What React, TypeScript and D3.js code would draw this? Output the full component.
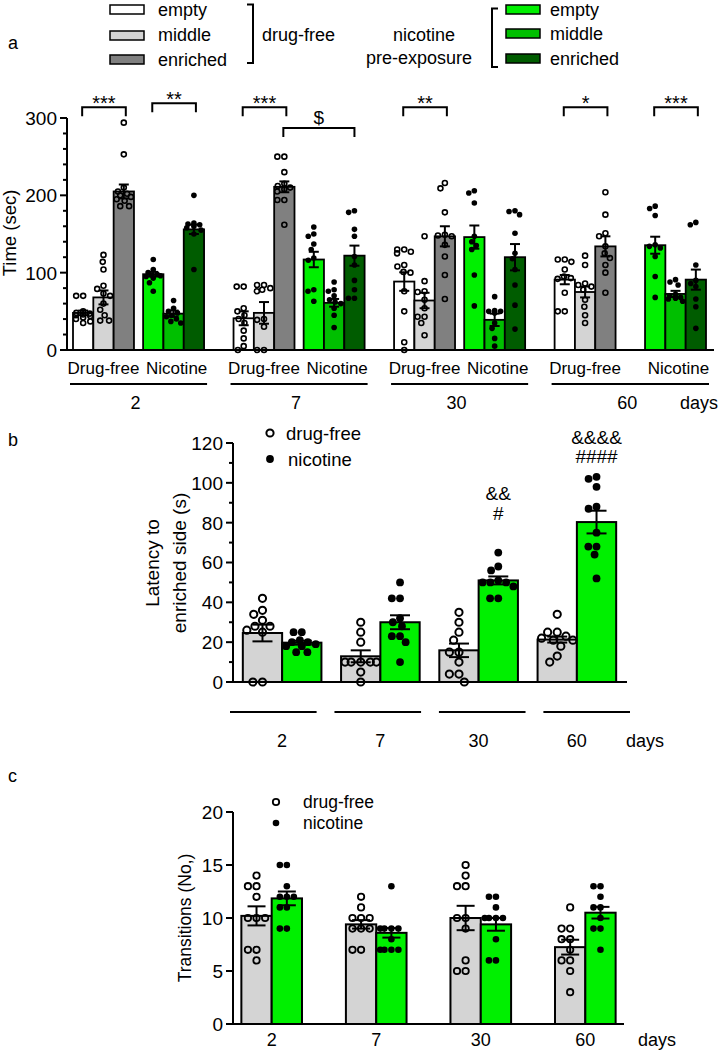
import React from 'react';
import * as d3 from 'd3';

const FONT = 'Arial, "Liberation Sans", Helvetica, sans-serif';

// ---------- shared categories ----------
const days = ['2', '7', '30', '60'];
const treatments = ['Drug-free', 'Nicotine'];
const chambers = ['empty', 'middle', 'enriched'];

// ---------- panel a : time in each chamber (sec) ----------
// order per day: drug-free empty, middle, enriched, nicotine empty, middle, enriched
const aMeans = [
  [48, 68, 205, 98, 47, 156],
  [41, 48, 211, 117, 61, 122],
  [88.5, 64, 147, 146, 39, 120],
  [91, 75, 134, 135.5, 72.5, 91],
];
const aSems = [
  [3, 9, 9, 3, 4, 6],
  [9, 14, 7, 10, 5, 13],
  [12, 10, 13, 15, 8, 17],
  [6, 7, 13, 11, 4, 13],
];
const aPoints = [
  [
    [70, 70, 50, 48, 47, 46, 45, 44, 42, 40, 37, 35],
    [123, 114, 104, 83, 79, 73, 70, 60, 52, 45, 38, 38],
    [294, 253, 210, 205, 202, 200, 198, 195, 193, 186, 186],
    [117, 104, 100, 98, 97, 96, 95, 93, 87, 76],
    [64, 54, 50, 48, 45, 43, 40, 37, 35],
    [200, 164, 163, 162, 160, 158, 155, 150, 104],
  ],
  [
    [82, 82, 54, 50, 45, 40, 35, 25, 15, 5, 0],
    [84, 84, 80, 78, 76, 40, 39, 30, 0, 0],
    [250, 250, 230, 215, 212, 210, 208, 205, 194, 194, 162],
    [159, 150, 147, 137, 130, 119, 116, 78, 76, 63],
    [88, 78, 76, 70, 65, 62, 60, 54, 45, 29],
    [180, 178, 156, 147, 121, 110, 90, 78, 67, 67],
  ],
  [
    [130, 130, 127, 125, 110, 108, 101, 100, 76, 50, 10, 0],
    [147, 89, 76, 75, 65, 54, 43, 43, 35, 19],
    [216, 209, 178, 149, 148, 147, 136, 121, 97, 66],
    [206, 203, 190, 147, 140, 135, 130, 97, 57],
    [69, 51, 50, 50, 48, 35, 28, 15, 5],
    [180, 179, 175, 151, 125, 118, 104, 84, 58, 27],
  ],
  [
    [117, 117, 114, 104, 95, 93, 92, 74, 50, 50],
    [122, 110, 86, 84, 82, 78, 65, 56, 45, 35],
    [204, 175, 151, 147, 134, 125, 119, 110, 100, 74],
    [186, 183, 174, 136, 134, 132, 121, 95, 68],
    [91, 88, 84, 72, 70, 68, 67, 66, 63],
    [165, 162, 110, 90, 86, 82, 66, 56, 28],
  ],
];
// [day index, from bar, to bar, label, y value]
const aBrackets: [number, number, number, string, number][] = [
  [0, 0, 2, '***', 314],
  [0, 3, 5, '**', 319],
  [1, 0, 2, '***', 314],
  [2, 0, 2, '**', 314],
  [3, 0, 2, '*', 314],
  [3, 3, 5, '***', 314],
];
const aCrossBracket = { day: 1, from: 2, to: 5, label: '$', y: 287 };
const aTicks = [0, 100, 200, 300];

// ---------- panel b : latency to enriched side (s) ----------
const bMeansDF = [24.6, 12.9, 15.9, 21.3];
const bMeansNic = [19.75, 30, 51, 80.3];
const bSemsDF = [4.2, 3, 3.4, 1.5];
const bSemsNic = [1, 3.5, 2, 5.7];
const bPointsDF = [
  [42, 36, 34, 31, 28, 28, 26, 25, 0, 0],
  [30, 25, 20, 10, 10, 10, 10, 10, 5, 0],
  [35, 30, 25, 21, 15, 15, 10, 4, 4, 0],
  [34, 25, 25, 23, 22, 21, 21, 18, 13, 10],
];
const bPointsNic = [
  [25, 25, 21, 20, 20, 19, 18, 18, 15, 15],
  [50, 42, 42, 32, 30, 28, 23, 23, 20, 10],
  [65, 58, 56, 51, 50, 50, 50, 48, 42, 42],
  [103, 102, 98, 88, 87, 75, 68, 68, 64, 52],
];
const bAnnotations = [
  { day: '30', text: '&&', y: 91.5 },
  { day: '30', text: '#', y: 81.5 },
  { day: '60', text: '&&&&', y: 119.3 },
  { day: '60', text: '####', y: 109.8 },
];
const bTicks = [0, 20, 40, 60, 80, 100, 120];

// ---------- panel c : transitions ----------
const cMeansDF = [10.2, 9.4, 10.0, 7.25];
const cMeansNic = [11.85, 8.6, 9.4, 10.5];
const cSemsDF = [0.9, 0.4, 1.15, 0.7];
const cSemsNic = [0.65, 0.45, 0.6, 0.55];
const cPointsDF = [
  [14, 13, 13, 12, 10, 10, 10, 7, 7, 6],
  [12, 11, 10, 10, 10, 9, 9, 9, 7, 7],
  [15, 14, 13, 13, 10, 10, 9, 6, 5, 5],
  [11, 9, 9, 8, 8, 7, 6, 6, 5, 3],
];
const cPointsNic = [
  [15, 15, 13, 12, 12, 12, 11, 11, 9, 9],
  [13, 9, 9, 9, 9, 8, 7, 7, 7, 7],
  [12, 12, 11, 10, 10, 10, 10, 8, 6, 6],
  [13, 13, 12, 11, 11, 10, 9, 9, 7],
];
const cTicks = [0, 5, 10, 15, 20];

// ---------- colours ----------
const dfColors = ['#ffffff', '#d4d4d4', '#808080'];
const nicColors = ['#00f000', '#00bf00', '#005c00'];
const grayBar = '#d4d4d4';
const greenBar = '#00f000';

// ---------- helpers ----------
function beeswarm(values: number[], y: (v: number) => number, cx: number, r: number, maxHalf: number) {
  const placed: { x: number; y: number }[] = [];
  const order = values.map((_, i) => i).sort((a, b) => values[b] - values[a]);
  const res: { x: number; y: number }[] = new Array(values.length);
  const d = 2 * r + 0.4;
  for (const i of order) {
    const py = y(values[i]);
    const blocked: [number, number][] = [];
    for (const p of placed) {
      const dy = Math.abs(p.y - py);
      if (dy < d) {
        const dx = Math.sqrt(d * d - dy * dy);
        blocked.push([p.x - dx, p.x + dx]);
      }
    }
    const cands = [0];
    blocked.forEach(([a, b]) => cands.push(a, b));
    const ok = cands.filter((c) => Math.abs(c) <= maxHalf + 1e-6).sort((a, b) => Math.abs(a) - Math.abs(b));
    let chosen: number | null = null;
    for (const c of ok) {
      if (blocked.every(([a, b]) => c <= a + 1e-6 || c >= b - 1e-6)) {
        chosen = c;
        break;
      }
    }
    if (chosen === null) {
      const grid = d3.range(-maxHalf, maxHalf + 0.01, maxHalf / 4);
      let best = 0;
      let bestScore = Infinity;
      for (const c of grid) {
        let s = 0;
        for (const p of placed) {
          const dist = Math.hypot(p.x - c, p.y - py);
          s += Math.max(0, d - dist);
        }
        s += Math.abs(c) * 0.01;
        if (s < bestScore) {
          bestScore = s;
          best = c;
        }
      }
      chosen = best;
    }
    placed.push({ x: chosen, y: py });
    res[i] = { x: cx + chosen, y: py };
  }
  return res;
}

function Points({ values, y, cx, r, open, sw, maxHalf }: any) {
  const pts = beeswarm(values, y, cx, r + (open ? sw / 2 : 0), maxHalf);
  return (
    <g>
      {pts.map((p, i) =>
        open ? (
          <circle key={i} cx={p.x} cy={p.y} r={r} fill="none" stroke="#000" strokeWidth={sw} />
        ) : (
          <circle key={i} cx={p.x} cy={p.y} r={r} fill="#000" />
        )
      )}
    </g>
  );
}

function ErrBar({ cx, y, mean, sem, half }: any) {
  return (
    <g stroke="#000" strokeWidth={2}>
      <line x1={cx} x2={cx} y1={y(mean + sem)} y2={y(mean - sem)} />
      <line x1={cx - half} x2={cx + half} y1={y(mean + sem)} y2={y(mean + sem)} />
      <line x1={cx - half} x2={cx + half} y1={y(mean - sem)} y2={y(mean - sem)} />
    </g>
  );
}

function YAxis({ x, y, ticks, minorStep, fs }: any) {
  const [lo, hi] = y.domain();
  const minors = minorStep ? d3.range(lo, hi + 1e-9, minorStep).filter((v: number) => !ticks.includes(v)) : [];
  return (
    <g>
      <line x1={x} x2={x} y1={y(lo) + 1} y2={y(hi)} stroke="#000" strokeWidth={2} />
      {ticks.map((t: number) => (
        <g key={t}>
          <line x1={x - 7} x2={x} y1={y(t)} y2={y(t)} stroke="#000" strokeWidth={2} />
          <text x={x - 10} y={y(t) + fs * 0.36} fontSize={fs} textAnchor="end" fontFamily={FONT}>
            {t}
          </text>
        </g>
      ))}
      {minors.map((t: number) => (
        <line key={'m' + t} x1={x - 4} x2={x} y1={y(t)} y2={y(t)} stroke="#000" strokeWidth={2} />
      ))}
    </g>
  );
}

// ---------- panel a ----------
function PanelA() {
  const innerGap = [0.45, 0.45, 0.45, 1.45];
  const outerGap = 1.45;
  let u = 0;
  const starts: number[][] = [];
  days.forEach((_, i) => {
    if (i > 0) u += outerGap;
    const row: number[] = [];
    for (let g = 0; g < 6; g++) {
      if (g === 3) u += innerGap[i];
      row.push(u);
      u += 1;
    }
    starts.push(row);
  });
  const x = d3.scaleLinear().domain([0, u]).range([73, 706]);
  const bw = x(1) - x(0);
  const y = d3.scaleLinear().domain([0, 300]).range([350, 118]);
  const cxOf = (d: number, g: number) => x(starts[d][g] + 0.5);

  return (
    <g>
      <text x={8} y={49} fontSize={18} fontFamily={FONT}>a</text>
      {/* legend */}
      {chambers.map((c, i) => (
        <g key={'l' + c}>
          <rect x={110} y={[5, 31, 55][i]} width={34} height={9} fill={dfColors[i]} stroke="#000" strokeWidth={1.5} />
          <text x={158} y={[9.5, 35, 59.5][i] + 6} fontSize={18} fontFamily={FONT}>{c}</text>
          <rect x={506} y={[5, 29, 54][i]} width={34} height={9} fill={nicColors[i]} stroke="#000" strokeWidth={1.5} />
          <text x={550} y={[9.5, 33.5, 58.5][i] + 6} fontSize={18} fontFamily={FONT}>{c}</text>
        </g>
      ))}
      <path d="M247,4.5 H253 V63 H247" fill="none" stroke="#000" strokeWidth={2} />
      <text x={262} y={41} fontSize={18} fontFamily={FONT}>drug-free</text>
      <text x={424} y={41} fontSize={18} fontFamily={FONT} textAnchor="middle">nicotine</text>
      <text x={419} y={64} fontSize={18} fontFamily={FONT} textAnchor="middle">pre-exposure</text>
      <path d="M498,8.5 H492 V67 H498" fill="none" stroke="#000" strokeWidth={2} />

      {/* bars */}
      {aMeans.map((row, d) =>
        row.map((m, g) => (
          <rect
            key={`b${d}-${g}`}
            x={x(starts[d][g])}
            y={y(m)}
            width={bw}
            height={y(0) - y(m)}
            fill={g < 3 ? dfColors[g] : nicColors[g - 3]}
            stroke="#000"
            strokeWidth={1.8}
          />
        ))
      )}
      {aPoints.map((row, d) =>
        row.map((vals, g) => (
          <Points
            key={`p${d}-${g}`}
            values={vals}
            y={y}
            cx={cxOf(d, g)}
            r={g < 3 ? 2.5 : 2.8}
            open={g < 3}
            sw={1.6}
            maxHalf={bw / 2 - 3}
          />
        ))
      )}
      {aMeans.map((row, d) =>
        row.map((m, g) => (
          <ErrBar key={`e${d}-${g}`} cx={cxOf(d, g)} y={y} mean={m} sem={aSems[d][g]} half={5} />
        ))
      )}
      <YAxis x={67} y={y} ticks={aTicks} minorStep={20} fs={19} />
      <line x1={66} x2={714} y1={y(0)} y2={y(0)} stroke="#000" strokeWidth={2} />
      <text transform={`translate(16,233) rotate(-90)`} fontSize={18.5} fontFamily={FONT} textAnchor="middle">
        Time (sec)
      </text>

      {/* significance brackets */}
      {aBrackets.map(([d, f, t, lab, v], i) => {
        const x1 = cxOf(d, f) - 1;
        const x2 = cxOf(d, t) + 2;
        const yy = y(v);
        return (
          <g key={'s' + i}>
            <path d={`M${x1},${yy + 9} V${yy} H${x2} V${yy + 9}`} fill="none" stroke="#000" strokeWidth={2} />
            <text x={(x1 + x2) / 2} y={yy + 3} fontSize={20} fontFamily={FONT} textAnchor="middle">{lab}</text>
          </g>
        );
      })}
      {(() => {
        const x1 = cxOf(aCrossBracket.day, aCrossBracket.from) - 1;
        const x2 = cxOf(aCrossBracket.day, aCrossBracket.to);
        const yy = y(aCrossBracket.y);
        return (
          <g>
            <path d={`M${x1},${yy + 9} V${yy} H${x2} V${yy + 9}`} fill="none" stroke="#000" strokeWidth={2} />
            <text x={(x1 + x2) / 2} y={yy - 4} fontSize={19} fontFamily={FONT} textAnchor="middle">{aCrossBracket.label}</text>
          </g>
        );
      })()}

      {/* category labels */}
      {days.map((dLab, d) => {
        const dfC = x(starts[d][0] + 1.5);
        const nicC = x(starts[d][3] + 1.5);
        const l = x(starts[d][0]) - 3;
        const r = x(starts[d][5] + 1) + 3;
        return (
          <g key={'c' + d}>
            <text x={dfC} y={374} fontSize={17} fontFamily={FONT} textAnchor="middle">{treatments[0]}</text>
            <text x={nicC + 3} y={374} fontSize={17} fontFamily={FONT} textAnchor="middle">{treatments[1]}</text>
            <line x1={l} x2={r} y1={384} y2={384} stroke="#000" strokeWidth={2} />
            <text x={(l + r) / 2 - 3} y={409} fontSize={18} fontFamily={FONT} textAnchor="middle">{dLab}</text>
          </g>
        );
      })}
      <text x={680} y={409} fontSize={18} fontFamily={FONT}>days</text>
    </g>
  );
}

// ---------- panel b ----------
function PanelB() {
  const x = d3.scaleBand<string>().domain(days).range([233, 626]).paddingInner(0.2).paddingOuter(0.1);
  const xi = d3.scaleBand<string>().domain(['df', 'nic']).range([0, x.bandwidth()]);
  const xu = d3.scaleBand<string>().domain(days).range([230, 630]).paddingInner(0.171);
  const y = d3.scaleLinear().domain([0, 120]).range([682, 443]);
  const bw = xi.bandwidth();
  return (
    <g>
      <text x={8} y={446} fontSize={18} fontFamily={FONT}>b</text>
      {days.map((d, i) => {
        const x0 = x(d)!;
        const cdf = x0 + xi('df')! + bw / 2;
        const cnic = x0 + xi('nic')! + bw / 2;
        return (
          <g key={d}>
            <rect x={x0} y={y(bMeansDF[i])} width={bw} height={y(0) - y(bMeansDF[i])} fill={grayBar} stroke="#000" strokeWidth={2} />
            <rect x={x0 + bw} y={y(bMeansNic[i])} width={bw} height={y(0) - y(bMeansNic[i])} fill={greenBar} stroke="#000" strokeWidth={2} />
            <Points values={bPointsDF[i]} y={y} cx={cdf} r={3.6} open sw={2} maxHalf={bw / 2 - 4} />
            <Points values={bPointsNic[i]} y={y} cx={cnic} r={3.9} open={false} sw={0} maxHalf={bw / 2 - 4} />
            <ErrBar cx={cdf} y={y} mean={bMeansDF[i]} sem={bSemsDF[i]} half={10} />
            <ErrBar cx={cnic} y={y} mean={bMeansNic[i]} sem={bSemsNic[i]} half={10} />
            <line x1={xu(d)!} x2={xu(d)! + xu.bandwidth()} y1={712} y2={712} stroke="#000" strokeWidth={2} />
            <text x={x0 + x.bandwidth() / 2} y={747} fontSize={18} fontFamily={FONT} textAnchor="middle">{d}</text>
          </g>
        );
      })}
      {bAnnotations.map((a, i) => (
        <text key={i} x={x(a.day)! + xi('nic')! + bw / 2} y={y(a.y)} fontSize={19} fontFamily={FONT} textAnchor="middle">
          {a.text}
        </text>
      ))}
      <text x={626} y={747} fontSize={18} fontFamily={FONT}>days</text>
      <YAxis x={233} y={y} ticks={bTicks} minorStep={10} fs={19} />
      <line x1={232} x2={627} y1={y(0)} y2={y(0)} stroke="#000" strokeWidth={2} />
      <text transform={`translate(159,563) rotate(-90)`} fontSize={19} fontFamily={FONT} textAnchor="middle">Latency to</text>
      <text transform={`translate(186,563) rotate(-90)`} fontSize={19} fontFamily={FONT} textAnchor="middle">enriched side (s)</text>
      {/* legend */}
      <circle cx={270} cy={433} r={3.6} fill="none" stroke="#000" strokeWidth={2} />
      <text x={286} y={439.5} fontSize={18.5} fontFamily={FONT}>drug-free</text>
      <circle cx={270} cy={459} r={3.9} fill="#000" />
      <text x={288} y={465.5} fontSize={18.5} fontFamily={FONT}>nicotine</text>
    </g>
  );
}

// ---------- panel c ----------
function PanelC() {
  const x = d3.scaleBand<string>().domain(days).range([233, 624]).paddingInner(0.42).paddingOuter(0.08);
  const xi = d3.scaleBand<string>().domain(['df', 'nic']).range([0, x.bandwidth()]);
  const y = d3.scaleLinear().domain([0, 20]).range([1024, 812]);
  const bw = xi.bandwidth();
  return (
    <g>
      <text x={8} y={782} fontSize={18} fontFamily={FONT}>c</text>
      {days.map((d, i) => {
        const x0 = x(d)!;
        const cdf = x0 + xi('df')! + bw / 2;
        const cnic = x0 + xi('nic')! + bw / 2;
        return (
          <g key={d}>
            <rect x={x0} y={y(cMeansDF[i])} width={bw} height={y(0) - y(cMeansDF[i])} fill={grayBar} stroke="#000" strokeWidth={2} />
            <rect x={x0 + bw} y={y(cMeansNic[i])} width={bw} height={y(0) - y(cMeansNic[i])} fill={greenBar} stroke="#000" strokeWidth={2} />
            <Points values={cPointsDF[i]} y={y} cx={cdf} r={3.2} open sw={1.8} maxHalf={bw / 2 - 4} />
            <Points values={cPointsNic[i]} y={y} cx={cnic} r={3.3} open={false} sw={0} maxHalf={bw / 2 - 4} />
            <ErrBar cx={cdf} y={y} mean={cMeansDF[i]} sem={cSemsDF[i]} half={9} />
            <ErrBar cx={cnic} y={y} mean={cMeansNic[i]} sem={cSemsNic[i]} half={9} />
            <text x={x0 + x.bandwidth() / 2} y={1046} fontSize={18} fontFamily={FONT} textAnchor="middle">{d}</text>
          </g>
        );
      })}
      <text x={638} y={1046} fontSize={18} fontFamily={FONT}>days</text>
      <YAxis x={233} y={y} ticks={cTicks} minorStep={0} fs={19} />
      <line x1={232} x2={624} y1={y(0)} y2={y(0)} stroke="#000" strokeWidth={2} />
      <text transform={`translate(191,918) rotate(-90)`} fontSize={17.5} fontFamily={FONT} textAnchor="middle">Transitions (No,)</text>
      <circle cx={276} cy={802} r={3.2} fill="none" stroke="#000" strokeWidth={1.8} />
      <text x={303} y={808} fontSize={17.5} fontFamily={FONT}>drug-free</text>
      <circle cx={276} cy={823} r={3.3} fill="#000" />
      <text x={303} y={829} fontSize={17.5} fontFamily={FONT}>nicotine</text>
    </g>
  );
}

export default function App() {
  return (
    <svg
      width={722}
      height={1050}
      viewBox="0 0 722 1050"
      style={{ position: 'absolute', left: 0, top: 0, background: '#fff' }}
    >
      <rect x={0} y={0} width={722} height={1050} fill="#fff" />
      <PanelA />
      <PanelB />
      <PanelC />
    </svg>
  );
}
